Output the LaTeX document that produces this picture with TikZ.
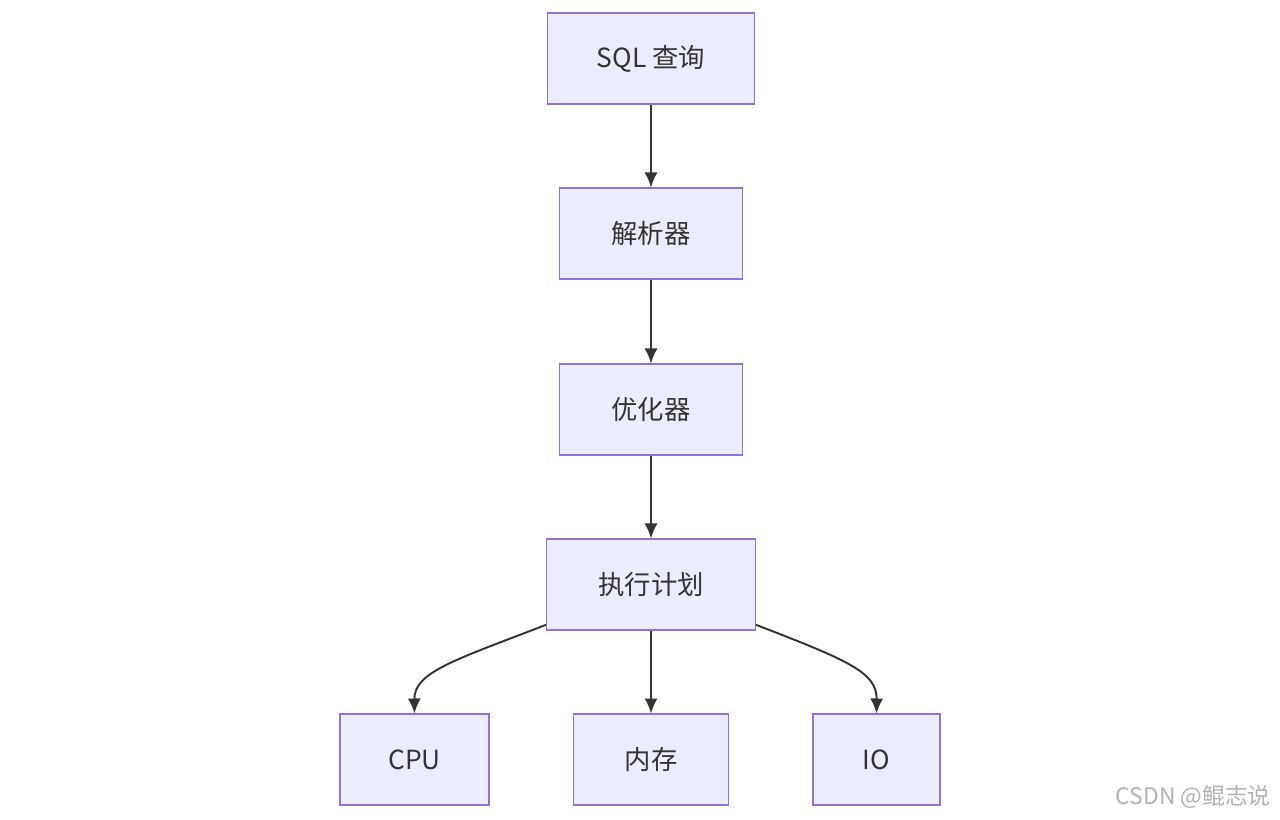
\documentclass[tikz,border=0pt]{standalone}
\usepackage{fontspec}
\setmainfont{Noto Sans CJK SC}
\usetikzlibrary{positioning}
\usetikzlibrary{arrows.meta}
\definecolor{box-fill}{HTML}{ECECFF}
\definecolor{box-line}{HTML}{9370DB}
\definecolor{ink}{HTML}{333333}
\colorlet{mark}{black!30}
\begin{document}
\begin{tikzpicture}[x=0.02cm, y=-0.02cm,
  stage/.style={draw=box-line, fill=box-fill, text=ink, line width=0.6pt,
    minimum height=1.82cm, inner xsep=0.5cm, font=\fontsize{15}{18}\selectfont},
  flow/.style={draw=ink, line width=1.1pt, -{Latex[length=0.3cm,width=0.26cm]}}]
\useasboundingbox (0,0) rectangle (1280,819);
% pipeline
\node[stage, minimum width=4.14cm] (sql)   at (651,58.5)  {SQL 查询};
\node[stage, minimum width=3.66cm] (parse) at (651,233.5) {解析器};
\node[stage, minimum width=3.66cm] (opt)   at (651,409.5) {优化器};
\node[stage, minimum width=4.18cm] (plan)  at (651,584.5) {执行计划};
% resources
\node[stage, minimum width=2.98cm] (cpu) at (414.5,759.5) {CPU};
\node[stage, minimum width=3.10cm] (mem) at (651,759.5)   {内存};
\node[stage, minimum width=2.54cm] (io)  at (876.5,759.5) {IO};
\draw[flow] (sql) -- (parse);
\draw[flow] (parse) -- (opt);
\draw[flow] (opt) -- (plan);
\draw[flow] (plan) -- (mem);
\draw[flow] (plan.201) .. controls (455,660) and (414,672) .. (cpu.north);
\draw[flow] (plan.339) .. controls (847,660) and (877,672) .. (io.north);
% watermark
\node[anchor=east, text=mark, font=\fontsize{13}{15}\selectfont] (csdn) at (1277,797) {CSDN @鲲志说};
\end{tikzpicture}
\end{document}
